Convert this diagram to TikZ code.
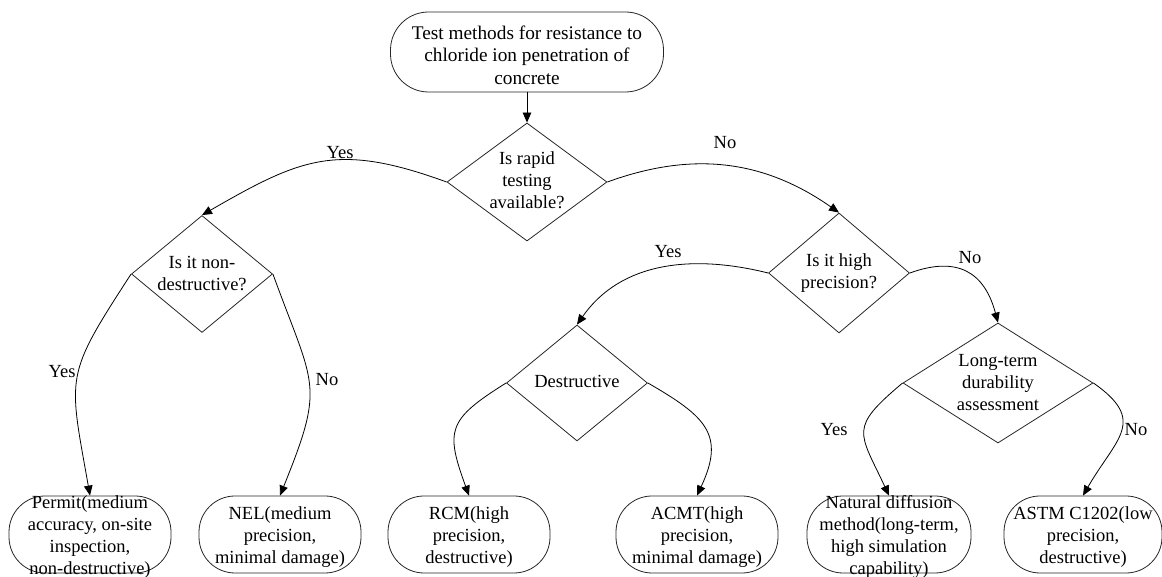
\documentclass[tikz,border=0pt]{standalone}
\usepackage{fontspec}
\setmainfont{Liberation Serif}
\usetikzlibrary{shapes.geometric,arrows.meta}
\begin{document}
\begin{tikzpicture}[x=1pt,y=1pt,
  every node/.style={font=\fontsize{18.5}{22}\selectfont},
  shp/.style={draw=black!85, line width=0.8pt, inner sep=0pt},
  term/.style={shp, rectangle, rounded corners=36pt, minimum width=162pt, minimum height=77pt},
  dia/.style={shp, diamond},
  txt/.style={align=center, inner sep=0pt},
  arr/.style={line width=0.8pt, -{Triangle[length=10pt,width=8.5pt]}}
]
\useasboundingbox (0,0) rectangle (1162,577);
% start
\node[term, rounded corners=38pt, minimum width=273pt, minimum height=80pt] (top) at (527,525) {};
\node[txt, font=\fontsize{19.3}{22.5}\selectfont] (topt) at (527,522) {Test methods for resistance to\\chloride ion penetration of\\concrete};
% decisions
\node[dia, minimum width=160pt, minimum height=118pt] (d1) at (527,395) {};
\node[txt] (d1t) at (527,397) {Is rapid\\testing\\available?};
\node[dia, minimum width=141pt, minimum height=117pt] (d2) at (202,303) {};
\node[txt] (d2t) at (202,303) {Is it non-\\destructive?};
\node[dia, minimum width=141pt, minimum height=120pt] (d3) at (839,304) {};
\node[txt] (d3t) at (839,304) {Is it high\\precision?};
\node[dia, minimum width=141pt, minimum height=116pt] (d4) at (577,194) {};
\node[txt] (d4t) at (577,196) {Destructive};
\node[dia, minimum width=190pt, minimum height=120pt] (d5) at (998,194) {};
\node[txt] (d5t) at (998,194) {Long-term\\durability\\assessment};
% results
\node[term] (permit) at (90,42.5) {};
\node[txt] (permitt) at (90,40) {Permit(medium\\accuracy, on-site\\inspection,\\non-destructive)};
\node[term] (nel) at (280,42.5) {};
\node[txt] (nelt) at (280,40) {NEL(medium\\precision,\\minimal damage)};
\node[term] (rcm) at (469,42.5) {};
\node[txt] (rcmt) at (469,40) {RCM(high\\precision,\\destructive)};
\node[term] (acmt) at (697,42.5) {};
\node[txt] (acmtt) at (697,40) {ACMT(high\\precision,\\minimal damage)};
\node[term, minimum width=164pt] (natural) at (889,42.5) {};
\node[txt] (naturalt) at (889,40) {Natural diffusion\\method(long-term,\\high simulation\\capability)};
\node[term, minimum width=158pt] (astm) at (1083,42.5) {};
\node[txt] (astmt) at (1083,40) {ASTM C1202(low\\precision,\\destructive)};
% connectors
\draw[arr] (top) -- (d1);
\draw[arr] (d1.west) to[out=160,in=30,looseness=1.2] (d2.north);
\draw[arr] (d1.east) to[out=20,in=145] (d3.north);
\draw[arr] (d2.west) to[out=237,in=100,looseness=1.4] (permit.north);
\draw[arr] (d2.east) to[out=290,in=68,looseness=1.4] (nel.north);
\draw[arr] (d3.west) to[out=166,in=55] (d4.north);
\draw[arr] (d3.east) to[out=20,in=105,looseness=1.3] (d5.north);
\draw[arr] (d4.west) to[out=212,in=110,looseness=1.5] (rcm.north);
\draw[arr] (d4.east) to[out=330,in=65,looseness=1.4] (acmt.north);
\draw[arr] (d5.west) to[out=220,in=115,looseness=1.6] (natural.north);
\draw[arr] (d5.east) to[out=325,in=60,looseness=1.5] (astm.north);
% branch labels
\node (y1) at (340,424) {Yes};
\node (n1) at (725,434) {No};
\node (y2) at (62,205) {Yes};
\node (n2) at (327,197) {No};
\node (y3) at (668,325) {Yes};
\node (n3) at (970,319) {No};
\node (y4) at (834,147) {Yes};
\node (n4) at (1136,147) {No};
\end{tikzpicture}
\end{document}
